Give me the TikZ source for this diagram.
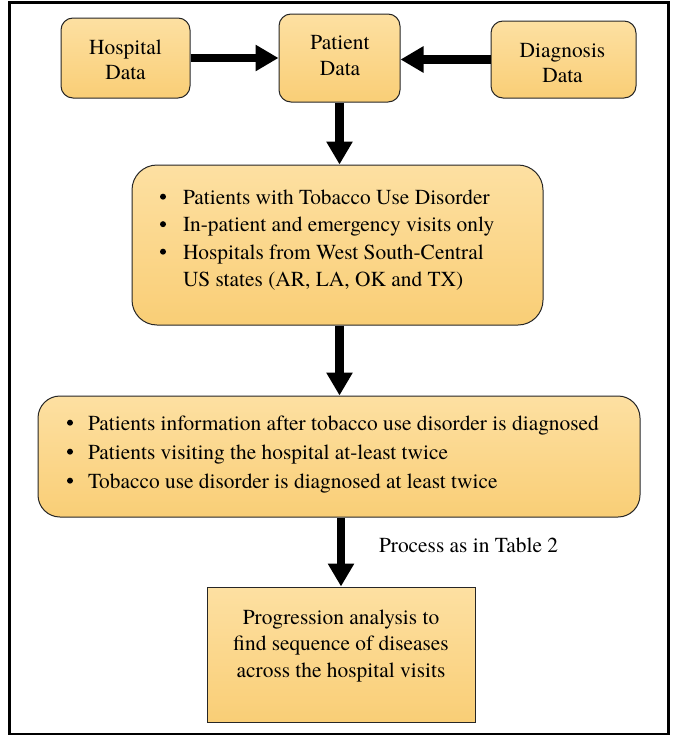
\documentclass[tikz,border=0pt]{standalone}
\usepackage{fontspec}
\setmainfont{texgyretermes-regular.otf}
\usetikzlibrary{arrows.meta}
\definecolor{boxtop}{RGB}{253,224,162}
\definecolor{boxbot}{RGB}{249,206,118}
\newcommand{\bigdot}{\raisebox{0.45ex}{\tikz\fill (0,0) circle (3pt);}}
\tikzset{
  gbox/.style={rectangle, draw=black!85, line width=1pt, top color=boxtop, bottom color=boxbot, inner sep=0pt},
  bigarrow/.style={line width=8.5pt, -{Triangle[length=23pt,width=25pt]}},
  txt/.style={inner sep=0pt, outer sep=0pt, anchor=base, font=\fontsize{21.4}{25}\selectfont},
}
\begin{document}
\begin{tikzpicture}[x=1pt,y=-1pt]
\useasboundingbox (0,0) rectangle (675,736);
\draw[line width=2.5pt] (9.5,2.7) rectangle (668.5,734);

% boxes
\node[gbox, rounded corners=12pt, minimum width=129pt, minimum height=80pt] (hosp) at (125.5,58) {};
\node[gbox, rounded corners=12pt, minimum width=121pt, minimum height=88pt] (pat) at (339.5,58) {};
\node[gbox, rounded corners=12pt, minimum width=145pt, minimum height=77pt] (diag) at (563.5,59.5) {};
\node[gbox, rounded corners=25pt, minimum width=411pt, minimum height=160pt] (b2) at (337.5,245) {};
\node[gbox, rounded corners=22pt, minimum width=602pt, minimum height=121pt] (b3) at (339,456.5) {};
\node[gbox, minimum width=268pt, minimum height=135pt] (b4) at (341,654.5) {};

% texts
\node[txt] (thosp) at (125.5,54) {\begin{tabular}[t]{@{}c@{}}Hospital\\Data\end{tabular}};
\node[txt, font=\fontsize{21.4}{26.6}\selectfont] (tpat) at (340,49) {\begin{tabular}[t]{@{}c@{}}Patient\\Data\end{tabular}};
\node[txt] (tdiag) at (562.5,57) {\begin{tabular}[t]{@{}c@{}}Diagnosis\\Data\end{tabular}};

\node[txt, anchor=base west, font=\fontsize{21.4}{27.5}\selectfont] (t2) at (160,204)
  {\begin{tabular}[t]{@{}l@{\hspace{17pt}}l@{}}
   \bigdot & Patients with Tobacco Use Disorder\\
   \bigdot & In-patient and emergency visits only\\
   \bigdot & Hospitals from West South-Central\\
               & US states (AR, LA, OK and TX)
   \end{tabular}};

\node[txt, anchor=base west, font=\fontsize{21.4}{29}\selectfont] (t3) at (67,430)
  {\begin{tabular}[t]{@{}l@{\hspace{15pt}}l@{}}
   \bigdot & Patients information after tobacco use disorder is diagnosed\\
   \bigdot & Patients visiting the hospital at-least twice\\
   \bigdot & Tobacco use disorder is diagnosed at least twice
   \end{tabular}};

\node[txt, font=\fontsize{21.4}{26.5}\selectfont] (t4) at (341,624)
  {\begin{tabular}[t]{@{}c@{}}Progression analysis to\\find sequence of diseases\\across the hospital visits\end{tabular}};

% connectors
\draw[bigarrow] (hosp.east) -- (pat.west);
\draw[bigarrow] (diag.west) -- (diag.west -| pat.east);
\draw[bigarrow] (pat.south) -- (pat.south |- b2.north);
\draw[bigarrow] (pat.south |- b2.south) -- (pat.south |- b3.north);
\draw[bigarrow] (b4.north |- b3.south) -- (b4.north);

\node[txt, anchor=base west] (lbl) at (379,552) {Process as in Table 2};
\end{tikzpicture}
\end{document}
